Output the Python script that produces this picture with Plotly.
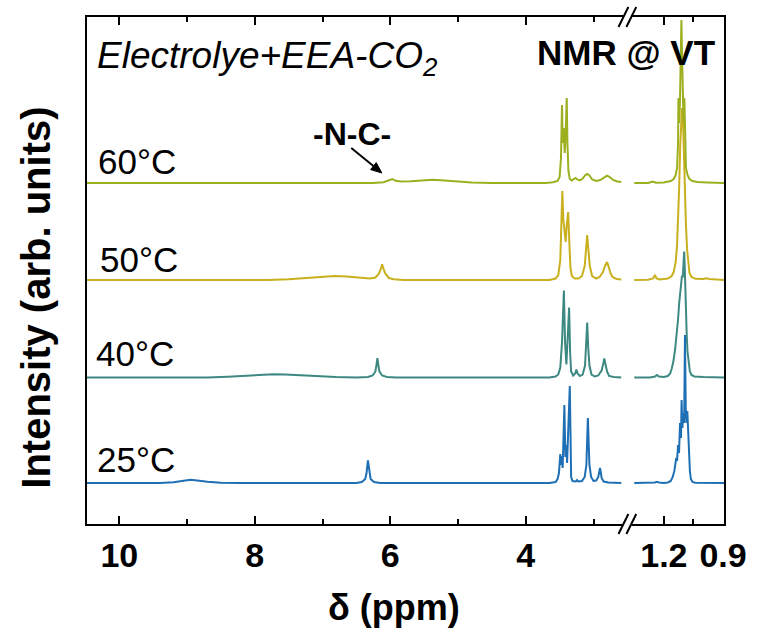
import plotly.graph_objects as go

# ---------------- data (ppm, intensity above own baseline) ----------------
TEMPS = ["25°C", "40°C", "50°C", "60°C"]
COLORS = ["#1F6FB5", "#3D8982", "#C8B01E", "#9CAF1F"]
OFFSETS = [41, 146.5, 244, 341]

T25_LEFT = [(10.48, 0), (9.4, 0), (9.2, 0.8), (9.05, 2.3), (8.95, 3.3), (8.85, 2.6), (8.7, 1.2), (8.5, 0.3), (8.2, 0),
            (6.5, 0), (6.42, 1), (6.37, 4), (6.35, 10), (6.33, 22.7), (6.31, 10), (6.29, 4), (6.24, 1), (6.15, 0),
            (3.65, 0), (3.56, 1), (3.53, 4), (3.51, 10), (3.49, 29), (3.48, 18), (3.47, 27), (3.455, 15), (3.43, 78),
            (3.415, 26), (3.40, 38), (3.39, 20), (3.35, 97), (3.34, 22), (3.33, 6), (3.31, 2), (3.26, 1.5), (3.243, 3),
            (3.225, 1.5), (3.17, 2), (3.13, 6), (3.105, 18), (3.095, 40), (3.083, 65), (3.071, 40), (3.06, 18),
            (3.035, 6), (3.0, 2), (2.96, 2.5), (2.93, 6), (2.915, 11), (2.904, 15), (2.893, 11), (2.88, 5),
            (2.85, 1.5), (2.78, 0.5), (2.59, 0)]
T25_RIGHT = [(1.35, 0), (1.27, 0), (1.245, 0.6), (1.235, 1.2), (1.225, 0.6), (1.20, 0), (1.18, 0.5), (1.165, 2),
             (1.155, 6), (1.147, 12), (1.142, 20), (1.137, 25), (1.133, 22), (1.128, 38), (1.123, 30), (1.118, 60),
             (1.113, 45), (1.11, 83), (1.106, 55), (1.101, 70), (1.097, 60), (1.093, 148), (1.089, 75), (1.085, 60),
             (1.081, 72), (1.077, 55), (1.073, 30), (1.068, 12), (1.063, 4), (1.055, 1), (1.04, 0.3), (0.89, 0)]

T40_LEFT = [(10.48, 0), (8.7, 0), (8.4, 0.8), (8.1, 2), (7.85, 3), (7.72, 3.3), (7.55, 3), (7.3, 2), (7.05, 1),
            (6.8, 0.4), (6.5, 0), (6.33, 0.5), (6.26, 2), (6.22, 6), (6.205, 12), (6.19, 19.3), (6.175, 12),
            (6.16, 6), (6.12, 2), (6.05, 0.5), (5.9, 0),
            (3.65, 0), (3.56, 1), (3.52, 3), (3.49, 10), (3.465, 35), (3.437, 87), (3.42, 35), (3.40, 13),
            (3.385, 30), (3.36, 70), (3.345, 25), (3.33, 6), (3.30, 2), (3.27, 4), (3.253, 8), (3.235, 4),
            (3.20, 1.5), (3.16, 3), (3.125, 12), (3.108, 30), (3.093, 55), (3.078, 30), (3.06, 12), (3.03, 3),
            (2.98, 1), (2.93, 2), (2.88, 7), (2.855, 14), (2.84, 19), (2.825, 14), (2.80, 6), (2.77, 1.5),
            (2.7, 0.5), (2.59, 0)]
T40_RIGHT = [(1.35, 0), (1.27, 0), (1.245, 1), (1.235, 2.5), (1.225, 1), (1.20, 0.5), (1.18, 1.5), (1.168, 4),
             (1.16, 9), (1.152, 15.7), (1.143, 28), (1.135, 42), (1.128, 58), (1.122, 75), (1.117, 88),
             (1.113, 97), (1.108, 102), (1.104, 100), (1.10, 118), (1.097, 126), (1.094, 110), (1.091, 85),
             (1.088, 62), (1.084, 42), (1.08, 26), (1.074, 14), (1.068, 6), (1.06, 2.5), (1.045, 1), (1.0, 0.5),
             (0.89, 0)]

T50_LEFT = [(10.48, 0), (7.8, 0), (7.5, 0.8), (7.2, 2), (7.0, 3.3), (6.82, 4), (6.65, 3.4), (6.45, 2.2),
            (6.3, 1.6), (6.22, 2.5), (6.17, 6), (6.14, 11), (6.12, 15.7), (6.10, 11), (6.07, 6), (6.02, 2),
            (5.95, 0.7), (5.8, 0),
            (3.65, 0), (3.56, 1.5), (3.52, 5), (3.49, 20), (3.475, 55), (3.46, 89), (3.445, 60), (3.42, 40),
            (3.41, 38), (3.395, 55), (3.374, 68), (3.355, 35), (3.34, 12), (3.32, 4), (3.28, 1.5), (3.22, 1.5),
            (3.17, 4), (3.13, 14), (3.11, 30), (3.093, 45), (3.075, 30), (3.055, 14), (3.02, 4), (2.96, 1.5),
            (2.91, 3), (2.86, 8), (2.83, 14), (2.80, 18), (2.775, 13), (2.75, 7), (2.72, 3), (2.66, 1),
            (2.59, 0.5)]
T50_RIGHT = [(1.35, 0), (1.28, 0.3), (1.255, 1.5), (1.245, 5), (1.237, 1.5), (1.22, 0.5), (1.18, 1.5),
             (1.16, 4), (1.15, 8), (1.14, 18), (1.133, 35), (1.127, 60), (1.122, 95), (1.117, 135), (1.112, 165),
             (1.108, 172), (1.103, 160), (1.098, 120), (1.093, 85), (1.088, 55), (1.082, 30), (1.076, 15),
             (1.07, 7), (1.06, 3), (1.04, 1.2), (1.0, 1), (0.985, 1.8), (0.97, 1), (0.94, 0.5), (0.89, 0)]

T60_LEFT = [(10.48, 0), (6.25, 0), (6.1, 0.8), (6.02, 2.5), (5.97, 4), (5.93, 2.5), (5.85, 1.5), (5.7, 1.8),
            (5.5, 2.7), (5.37, 3.2), (5.2, 2.5), (5.0, 1.2), (4.8, 0.4), (4.5, 0),
            (3.70, 0), (3.6, 0.8), (3.53, 2), (3.50, 6), (3.48, 25), (3.465, 78), (3.455, 40), (3.44, 55),
            (3.425, 30), (3.41, 50), (3.395, 85), (3.385, 40), (3.37, 12), (3.35, 4), (3.32, 2.5), (3.29, 4),
            (3.265, 5), (3.24, 3.5), (3.2, 2.5), (3.16, 4.5), (3.12, 8), (3.093, 9), (3.06, 7.5), (3.02, 3.5),
            (2.96, 2), (2.90, 3), (2.84, 6), (2.80, 7.3), (2.76, 6), (2.71, 3), (2.65, 1.5), (2.59, 1)]
T60_RIGHT = [(1.35, 0), (1.28, 0), (1.255, 1.5), (1.24, 0.3), (1.2, 0.5), (1.165, 2), (1.15, 4), (1.14, 8),
             (1.133, 15), (1.128, 40), (1.126, 85), (1.122, 60), (1.118, 84), (1.114, 130), (1.111, 163),
             (1.108, 130), (1.104, 84), (1.10, 60), (1.096, 85), (1.093, 40), (1.088, 15), (1.08, 8), (1.07, 4),
             (1.055, 2), (1.03, 1), (0.98, 0.6), (0.89, 0)]

LEFT_SPECTRA = [T25_LEFT, T40_LEFT, T50_LEFT, T60_LEFT]
RIGHT_SPECTRA = [T25_RIGHT, T40_RIGHT, T50_RIGHT, T60_RIGHT]

LEFT_TICKS = [10, 8, 6, 4]
LEFT_MINOR = [9, 7, 5, 3]
RIGHT_TICKS = [1.2, 0.9]
RIGHT_TICKTEXT = ["1.2", "0.9"]
RIGHT_MINOR = [1.05]

# ---------------- layout geometry (pixels) ----------------
W, H = 759, 637
PL, PR, PT, PB = 87, 733, 17, 524
BREAK = 635


def px(x):
    return (x - PL) / (PR - PL)


def py(y):
    return (PB - y) / (PB - PT)


D = px(BREAK)

fig = go.Figure()
for name, col, off, lt, rt in zip(TEMPS, COLORS, OFFSETS, LEFT_SPECTRA, RIGHT_SPECTRA):
    fig.add_trace(go.Scatter(x=[p[0] for p in lt], y=[p[1] + off for p in lt], mode="lines",
                             line=dict(color=col, width=2), xaxis="x", yaxis="y", showlegend=False, name=name))
    fig.add_trace(go.Scatter(x=[p[0] for p in rt], y=[p[1] + off for p in rt], mode="lines",
                             line=dict(color=col, width=2), xaxis="x2", yaxis="y2", showlegend=False, name=name))

tickfont = dict(family="Liberation Sans, Arial", size=34, color="black", weight="bold")
axcommon = dict(showline=True, linecolor="black", linewidth=2, mirror="ticks", ticks="inside", ticklen=8,
                tickwidth=2, tickcolor="black", showgrid=False, zeroline=False, tickfont=tickfont,
                ticklabelstandoff=0)

fig.update_layout(
    width=W, height=H, margin=dict(l=PL, r=W - PR, t=PT, b=H - PB),
    plot_bgcolor="white", paper_bgcolor="white",
    xaxis=dict(domain=[0, D], range=[10.477, 2.50], tickvals=LEFT_TICKS, anchor="y",
               minor=dict(tickvals=LEFT_MINOR, ticks="inside", ticklen=5, tickwidth=2, tickcolor="black"),
               **axcommon),
    xaxis2=dict(domain=[D, 1], range=[1.385, 0.895], tickvals=RIGHT_TICKS, ticktext=RIGHT_TICKTEXT, anchor="y2",
                minor=dict(tickvals=RIGHT_MINOR, ticks="inside", ticklen=5, tickwidth=2, tickcolor="black"),
                **axcommon),
    yaxis=dict(range=[0, PB - PT], showticklabels=False, ticks="", showline=True, linecolor="black",
               linewidth=2, showgrid=False, zeroline=False, anchor="x"),
    yaxis2=dict(range=[0, PB - PT], showticklabels=False, ticks="", showline=True, linecolor="black",
                linewidth=2, showgrid=False, zeroline=False, anchor="x2", side="right"),
)

shapes = []
# axis break marks
for yb in (PT, PB):
    shapes.append(dict(type="rect", xref="paper", yref="paper", x0=px(BREAK - 4), x1=px(BREAK + 4),
                       y0=py(yb + 4), y1=py(yb - 4), fillcolor="white", line=dict(width=0), layer="above"))
    for dx in (-4, 4):
        shapes.append(dict(type="line", xref="paper", yref="paper", x0=px(BREAK + dx - 5), y0=py(yb + 10),
                           x1=px(BREAK + dx + 5), y1=py(yb - 10), line=dict(color="black", width=2),
                           layer="above"))

# arrow pointing to the -N-C- peak (line + filled head)
tail = (355, 148)
head = (386, 173)
vx, vy = head[0] - tail[0], head[1] - tail[1]
ln = (vx ** 2 + vy ** 2) ** 0.5
ux, uy = vx / ln, vy / ln
hl, hw = 11, 4.5
bx, by = head[0] - hl * ux, head[1] - hl * uy
c1 = (bx - hw * uy, by + hw * ux)
c2 = (bx + hw * uy, by - hw * ux)
shapes.append(dict(type="line", xref="paper", yref="paper", x0=px(tail[0]), y0=py(tail[1]), x1=px(bx + 2 * ux),
                   y1=py(by + 2 * uy), line=dict(color="black", width=2), layer="above"))
shapes.append(dict(type="path", xref="paper", yref="paper",
                   path=f"M {px(head[0])} {py(head[1])} L {px(c1[0])} {py(c1[1])} L {px(c2[0])} {py(c2[1])} Z",
                   fillcolor="black", line=dict(color="black", width=1), layer="above"))
fig.update_layout(shapes=shapes)

ann = []
reg = dict(family="Liberation Sans, Arial", color="black")
bold = dict(family="Liberation Sans, Arial", color="black", weight="bold")
LABEL_POS = [(95, 459), (94, 353), (98, 259), (96, 161)]
for name, (lx, ly) in zip(TEMPS, LABEL_POS):
    ann.append(dict(text=name, x=px(lx), y=py(ly), xref="paper", yref="paper", xanchor="left", yanchor="middle",
                    showarrow=False, font=dict(size=35, **reg)))
ann.append(dict(text="<i>Electrolye+EEA-CO<sub>2</sub></i>", x=px(95), y=py(58), xref="paper", yref="paper",
                xanchor="left", yanchor="middle", showarrow=False, font=dict(size=37, **reg)))
ann.append(dict(text="NMR @ VT", x=px(634), y=py(52), xref="paper", yref="paper", xanchor="center",
                yanchor="middle", showarrow=False, font=dict(size=35, **bold)))
ann.append(dict(text="-N-C-", x=px(356), y=py(134), xref="paper", yref="paper", xanchor="center",
                yanchor="middle", showarrow=False, font=dict(size=32, **bold)))
ann.append(dict(text="Intensity (arb. units)", x=px(35), y=py(298), xref="paper", yref="paper", textangle=-90,
                xanchor="center", yanchor="middle", showarrow=False, font=dict(size=40, **bold)))
ann.append(dict(text="δ (ppm)", x=px(398), y=py(607), xref="paper", yref="paper", xanchor="center",
                yanchor="middle", showarrow=False, font=dict(size=36, **bold)))
fig.update_layout(annotations=ann)

fig.write_html("out.html")
